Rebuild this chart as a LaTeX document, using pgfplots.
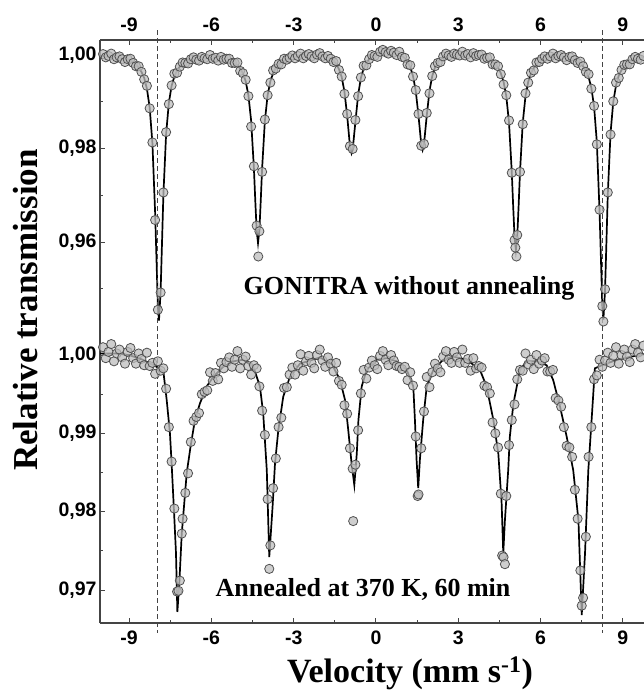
\documentclass[border=0pt]{standalone}
\usepackage{pgfplots}
\pgfplotsset{compat=1.18}
\usepackage{fontspec}
\setmainfont{Liberation Serif}
\newfontfamily\tickfont{Liberation Sans}
\definecolor{axgray}{HTML}{444444}
\definecolor{mfill}{HTML}{BDBDBD}
\definecolor{medge}{HTML}{505050}
\pgfplotsset{
  mystyle/.style={
    scale only axis, width=544pt,
    xmin=-10.06, xmax=9.77,
    xtick={-9,-6,-3,0,3,6,9},
    xticklabels={-9,-6,-3,0,3,6,9},
    minor xtick={-7.5,-4.5,-1.5,1.5,4.5,7.5},
    tick align=inside,
    major tick length=5pt, minor tick length=3pt,
    tick style={axgray, line width=1pt},
    axis line style={axgray, line width=1.4pt},
    ticklabel style={font={\tickfont\bfseries\fontsize{19.5}{21}\selectfont}, text=black},
  },
  pts/.style={only marks, mark=*, mark size=4.6pt,
    mark options={fill=mfill, fill opacity=0.75, draw=medge, line width=0.8pt}},
  fit/.style={black, line width=1.7pt, mark=none},
}
\begin{document}
\begin{tikzpicture}
\path[use as bounding box] (0,0) rectangle (644pt,691pt);
% ---------------- top panel ----------------
\begin{axis}[mystyle, at={(100pt,364pt)}, anchor=south west, height=287pt,
  ymin=0.94182, ymax=1.00321,
  axis x line*=top, axis y line*=left,
  ytick={0.96,0.98,1.00}, yticklabels={{0,96},{0,98},{1,00}},
  minor ytick={0.95,0.97,0.99},
  clip=false, xticklabel style={yshift=5pt}]
\addplot[pts] table {
-9.95 1.0002
-9.85 0.9995
-9.75 0.9998
-9.65 1.0003
-9.55 0.9991
-9.45 0.9995
-9.35 0.9997
-9.25 0.9991
-9.15 0.9985
-9.05 0.9991
-8.95 0.9992
-8.85 0.9983
-8.75 0.9976
-8.65 0.9976
-8.55 0.9964
-8.45 0.9948
-8.35 0.9934
-8.25 0.9886
-8.15 0.9813
-8.05 0.9647
-7.95 0.9455
-7.85 0.9492
-7.75 0.9706
-7.65 0.9835
-7.55 0.9895
-7.45 0.9935
-7.35 0.9960
-7.25 0.9962
-7.15 0.9975
-7.05 0.9984
-6.95 0.9983
-6.85 0.9982
-6.75 0.9991
-6.65 0.9995
-6.55 0.9990
-6.45 0.9988
-6.35 0.9996
-6.25 0.9993
-6.15 0.9991
-6.05 1.0000
-5.95 0.9992
-5.85 0.9994
-5.75 0.9988
-5.65 0.9996
-5.55 0.9990
-5.45 0.9992
-5.35 0.9992
-5.25 0.9983
-5.15 0.9983
-5.05 0.9984
-4.95 0.9966
-4.85 0.9961
-4.75 0.9947
-4.65 0.9912
-4.55 0.9847
-4.45 0.9762
-4.35 0.9635
-4.29 0.9569
-4.25 0.9623
-4.15 0.9750
-4.05 0.9862
-3.95 0.9914
-3.85 0.9941
-3.75 0.9967
-3.65 0.9971
-3.55 0.9981
-3.45 0.9980
-3.35 0.9992
-3.25 0.9990
-3.15 0.9994
-3.05 0.9999
-2.95 0.9993
-2.85 0.9998
-2.75 1.0003
-2.65 0.9993
-2.55 0.9998
-2.45 1.0002
-2.35 0.9997
-2.25 0.9993
-2.15 1.0001
-2.05 1.0004
-1.95 0.9997
-1.85 0.9993
-1.75 0.9998
-1.65 0.9992
-1.55 0.9985
-1.45 0.9987
-1.35 0.9968
-1.25 0.9954
-1.15 0.9917
-1.05 0.9874
-0.95 0.9805
-0.85 0.9799
-0.75 0.9861
-0.65 0.9912
-0.55 0.9952
-0.45 0.9977
-0.35 0.9978
-0.25 0.9991
-0.15 1.0000
-0.05 0.9998
0.05 0.9996
0.15 1.0007
0.25 1.0011
0.35 1.0006
0.45 1.0003
0.55 1.0009
0.65 1.0005
0.75 1.0000
0.85 1.0007
0.95 0.9996
1.05 0.9994
1.15 0.9980
1.25 0.9978
1.35 0.9954
1.45 0.9925
1.55 0.9874
1.65 0.9806
1.75 0.9810
1.85 0.9876
1.95 0.9918
2.05 0.9955
2.15 0.9976
2.25 0.9983
2.35 0.9985
2.45 0.9997
2.55 1.0003
2.65 0.9999
2.75 0.9996
2.85 1.0003
2.95 1.0001
3.05 0.9999
3.15 1.0007
3.25 0.9999
3.35 1.0002
3.45 0.9995
3.55 1.0004
3.65 0.9998
3.75 1.0000
3.85 1.0001
3.95 0.9992
4.05 0.9994
4.15 0.9995
4.25 0.9980
4.35 0.9980
4.45 0.9976
4.55 0.9959
4.65 0.9937
4.75 0.9914
4.85 0.9860
4.95 0.9748
5.05 0.9604
5.08 0.9588
5.12 0.9569
5.15 0.9615
5.25 0.9750
5.35 0.9852
5.45 0.9918
5.55 0.9941
5.65 0.9962
5.75 0.9967
5.85 0.9984
5.95 0.9985
6.05 0.9992
6.15 0.9997
6.25 0.9992
6.35 0.9997
6.45 1.0003
6.55 0.9993
6.65 0.9998
6.75 1.0000
6.85 0.9995
6.95 0.9989
7.05 0.9996
7.15 0.9997
7.25 0.9989
7.35 0.9983
7.45 0.9986
7.55 0.9976
7.65 0.9964
7.75 0.9959
7.85 0.9928
7.95 0.9891
8.05 0.9809
8.15 0.9669
8.25 0.9463
8.29 0.9430
8.35 0.9499
8.45 0.9706
8.55 0.9830
8.65 0.9901
8.75 0.9941
8.85 0.9951
8.95 0.9968
9.05 0.9979
9.15 0.9980
9.25 0.9980
9.35 0.9991
9.45 0.9996
9.55 0.9992
9.65 0.9990
9.75 0.9998
};
\addplot[fit] table {
-10.05 0.9998
-9.95 0.9998
-9.85 0.9998
-9.75 0.9997
-9.65 0.9997
-9.55 0.9996
-9.45 0.9995
-9.35 0.9994
-9.25 0.9993
-9.15 0.9991
-9.05 0.9989
-8.95 0.9987
-8.85 0.9984
-8.75 0.9980
-8.65 0.9973
-8.55 0.9964
-8.45 0.9951
-8.35 0.9928
-8.25 0.9888
-8.15 0.9812
-8.05 0.9662
-7.95 0.9462
-7.91 0.9432
-7.85 0.9495
-7.75 0.9700
-7.65 0.9831
-7.55 0.9898
-7.45 0.9934
-7.35 0.9954
-7.25 0.9967
-7.15 0.9975
-7.05 0.9981
-6.95 0.9985
-6.85 0.9988
-6.75 0.9989
-6.65 0.9990
-6.55 0.9991
-6.45 0.9992
-6.35 0.9993
-6.25 0.9993
-6.15 0.9994
-6.05 0.9994
-5.95 0.9994
-5.85 0.9993
-5.75 0.9993
-5.65 0.9992
-5.55 0.9991
-5.45 0.9990
-5.35 0.9988
-5.25 0.9986
-5.15 0.9982
-5.05 0.9978
-4.95 0.9971
-4.85 0.9961
-4.75 0.9944
-4.65 0.9914
-4.55 0.9859
-4.45 0.9758
-4.40 0.9689
-4.35 0.9625
-4.30 0.9598
-4.25 0.9625
-4.20 0.9689
-4.15 0.9758
-4.05 0.9859
-3.95 0.9914
-3.85 0.9944
-3.75 0.9961
-3.65 0.9973
-3.55 0.9980
-3.45 0.9985
-3.35 0.9988
-3.25 0.9991
-3.15 0.9992
-3.05 0.9995
-2.95 0.9996
-2.85 0.9997
-2.75 0.9997
-2.65 0.9998
-2.55 0.9998
-2.45 0.9999
-2.35 0.9999
-2.25 0.9999
-2.15 0.9999
-2.05 0.9999
-1.95 0.9998
-1.85 0.9997
-1.75 0.9995
-1.65 0.9992
-1.55 0.9988
-1.45 0.9981
-1.35 0.9970
-1.25 0.9953
-1.15 0.9922
-1.05 0.9870
-0.95 0.9806
-0.89 0.9790
-0.85 0.9797
-0.75 0.9857
-0.65 0.9915
-0.55 0.9951
-0.45 0.9971
-0.35 0.9983
-0.25 0.9991
-0.15 0.9997
-0.05 1.0000
0.05 1.0002
0.15 1.0005
0.25 1.0006
0.35 1.0007
0.45 1.0007
0.55 1.0006
0.65 1.0005
0.75 1.0003
0.85 1.0001
0.95 0.9998
1.05 0.9993
1.15 0.9985
1.25 0.9974
1.35 0.9955
1.45 0.9923
1.55 0.9870
1.65 0.9809
1.70 0.9797
1.75 0.9809
1.85 0.9870
1.95 0.9923
2.05 0.9955
2.15 0.9973
2.25 0.9985
2.35 0.9991
2.45 0.9995
2.55 0.9998
2.65 1.0000
2.75 1.0000
2.85 1.0000
2.95 1.0001
3.05 1.0002
3.15 1.0001
3.25 1.0001
3.35 1.0001
3.45 1.0000
3.55 1.0000
3.65 0.9999
3.75 0.9998
3.85 0.9997
3.95 0.9995
4.05 0.9993
4.15 0.9989
4.25 0.9985
4.35 0.9980
4.45 0.9973
4.55 0.9961
4.65 0.9943
4.75 0.9912
4.85 0.9855
4.95 0.9750
5.00 0.9678
5.05 0.9612
5.10 0.9583
5.15 0.9612
5.20 0.9678
5.25 0.9750
5.35 0.9855
5.45 0.9912
5.55 0.9943
5.65 0.9961
5.75 0.9972
5.85 0.9980
5.95 0.9986
6.05 0.9990
6.15 0.9993
6.25 0.9995
6.35 0.9996
6.45 0.9997
6.55 0.9998
6.65 0.9998
6.75 0.9997
6.85 0.9997
6.95 0.9995
7.05 0.9994
7.15 0.9992
7.25 0.9990
7.35 0.9987
7.45 0.9983
7.55 0.9976
7.65 0.9967
7.75 0.9953
7.85 0.9930
7.95 0.9890
8.05 0.9814
8.15 0.9665
8.25 0.9464
8.29 0.9434
8.35 0.9497
8.45 0.9702
8.55 0.9833
8.65 0.9900
8.75 0.9935
8.85 0.9956
8.95 0.9968
9.05 0.9976
9.15 0.9982
9.25 0.9986
9.35 0.9989
9.45 0.9991
9.55 0.9993
9.65 0.9994
9.77 0.9995
};
\draw[axgray, line width=1.2pt, dash pattern=on 5pt off 3pt] (axis cs:-7.96,1.0053) -- (axis cs:-7.96,0.8764);
\draw[axgray, line width=1.2pt, dash pattern=on 5pt off 3pt] (axis cs:8.25,1.0053) -- (axis cs:8.25,0.8764);
\end{axis}
% ---------------- bottom panel ----------------
\begin{axis}[mystyle, at={(100pt,68pt)}, anchor=south west, height=296pt,
  ymin=0.96579, ymax=1.00358,
  axis x line*=bottom, axis y line*=left,
  ytick={0.97,0.98,0.99,1.00}, yticklabels={{0,97},{0,98},{0,99},{1,00}},
  minor ytick={0.975,0.985,0.995},
  xticklabel style={yshift=-4pt}]
\addplot[pts] table {
-9.95 1.0010
-9.85 0.9996
-9.75 1.0004
-9.65 1.0014
-9.55 0.9992
-9.45 1.0002
-9.35 1.0007
-9.25 0.9997
-9.15 0.9989
-9.05 1.0004
-8.95 1.0009
-8.85 0.9996
-8.75 0.9989
-8.65 1.0002
-8.55 0.9995
-8.45 0.9987
-8.35 1.0003
-8.25 0.9986
-8.15 0.9990
-8.05 0.9976
-7.95 0.9992
-7.85 0.9980
-7.75 0.9983
-7.65 0.9957
-7.55 0.9908
-7.45 0.9864
-7.35 0.9804
-7.25 0.9698
-7.20 0.9699
-7.15 0.9712
-7.08 0.9772
-7.05 0.9791
-6.95 0.9824
-6.85 0.9849
-6.75 0.9889
-6.65 0.9916
-6.55 0.9921
-6.45 0.9926
-6.35 0.9950
-6.25 0.9953
-6.15 0.9955
-6.05 0.9978
-5.95 0.9967
-5.85 0.9977
-5.75 0.9969
-5.65 0.9990
-5.55 0.9983
-5.45 0.9991
-5.35 0.9997
-5.25 0.9985
-5.15 0.9994
-5.05 1.0005
-4.95 0.9983
-4.85 0.9994
-4.75 0.9998
-4.65 0.9986
-4.55 0.9975
-4.45 0.9987
-4.35 0.9983
-4.25 0.9960
-4.15 0.9929
-4.05 0.9898
-3.95 0.9816
-3.89 0.9727
-3.85 0.9757
-3.75 0.9830
-3.65 0.9868
-3.55 0.9908
-3.45 0.9920
-3.35 0.9958
-3.25 0.9959
-3.15 0.9975
-3.05 0.9984
-2.95 0.9975
-2.85 0.9987
-2.75 1.0001
-2.65 0.9980
-2.55 0.9992
-2.45 0.9999
-2.35 0.9990
-2.25 0.9983
-2.15 1.0000
-2.05 1.0007
-1.95 0.9993
-1.85 0.9985
-1.75 0.9997
-1.65 0.9989
-1.55 0.9979
-1.45 0.9990
-1.35 0.9967
-1.25 0.9962
-1.15 0.9936
-1.05 0.9925
-0.95 0.9881
-0.85 0.9855
-0.83 0.9788
-0.75 0.9860
-0.65 0.9904
-0.55 0.9951
-0.45 0.9981
-0.35 0.9970
-0.25 0.9984
-0.15 0.9993
-0.05 0.9987
0.05 0.9982
0.15 0.9999
0.25 1.0005
0.35 0.9994
0.45 0.9987
0.55 1.0000
0.65 0.9993
0.75 0.9986
0.85 0.9985
0.95 0.9982
1.05 0.9985
1.15 0.9968
1.25 0.9978
1.35 0.9961
1.45 0.9896
1.52 0.9820
1.55 0.9822
1.65 0.9881
1.75 0.9928
1.85 0.9972
1.95 0.9959
2.05 0.9978
2.15 0.9989
2.25 0.9983
2.35 0.9978
2.45 0.9998
2.55 1.0005
2.65 0.9994
2.75 0.9990
2.85 1.0004
2.95 0.9997
3.05 0.9990
3.15 1.0007
3.25 0.9990
3.35 0.9995
3.45 0.9980
3.55 0.9996
3.65 0.9983
3.75 0.9986
3.85 0.9984
3.95 0.9961
4.05 0.9959
4.15 0.9951
4.25 0.9914
4.35 0.9900
4.45 0.9882
4.55 0.9823
4.60 0.9744
4.65 0.9742
4.70 0.9733
4.75 0.9820
4.85 0.9885
4.95 0.9917
5.05 0.9937
5.15 0.9969
5.25 0.9981
5.35 0.9980
5.45 1.0002
5.55 0.9988
5.65 0.9994
5.75 0.9982
5.85 1.0000
5.95 0.9989
6.05 0.9993
6.15 0.9996
6.25 0.9979
6.35 0.9979
6.45 0.9981
6.55 0.9945
6.65 0.9942
6.75 0.9934
6.85 0.9908
6.95 0.9884
7.05 0.9882
7.15 0.9870
7.25 0.9828
7.35 0.9791
7.45 0.9725
7.50 0.9680
7.55 0.9690
7.65 0.9768
7.75 0.9870
7.85 0.9908
7.95 0.9969
8.05 0.9974
8.15 0.9994
8.25 0.9985
8.35 0.9993
8.45 1.0003
8.55 0.9990
8.65 0.9999
8.75 1.0010
8.85 0.9989
8.95 1.0000
9.05 1.0007
9.15 0.9998
9.25 0.9991
9.35 1.0007
9.45 1.0014
9.55 1.0003
9.65 0.9997
9.75 1.0012
};
\addplot[fit] table {
-10.06 1.0002
-9.50 1.0002
-9.00 1.0000
-8.50 0.9994
-8.00 0.9985
-7.75 0.9979
-7.63 0.9943
-7.51 0.9900
-7.45 0.9862
-7.36 0.9799
-7.29 0.9747
-7.24 0.9672
-7.17 0.9708
-7.08 0.9772
-7.00 0.9806
-6.90 0.9849
-6.76 0.9883
-6.60 0.9917
-6.42 0.9938
-6.17 0.9960
-5.93 0.9972
-5.57 0.9985
-5.20 0.9992
-4.84 0.9994
-4.47 0.9985
-4.23 0.9960
-4.11 0.9925
-3.98 0.9853
-3.89 0.9742
-3.77 0.9806
-3.68 0.9862
-3.56 0.9904
-3.38 0.9947
-3.14 0.9972
-2.77 0.9989
-2.04 0.9997
-1.60 0.9988
-1.31 0.9968
-1.13 0.9943
-1.01 0.9904
-0.89 0.9862
-0.79 0.9834
-0.70 0.9874
-0.64 0.9917
-0.52 0.9960
-0.34 0.9981
0.02 0.9994
0.39 0.9996
0.75 0.9992
1.12 0.9981
1.36 0.9960
1.42 0.9917
1.48 0.9866
1.54 0.9830
1.60 0.9866
1.72 0.9917
1.85 0.9960
2.09 0.9981
2.45 0.9994
2.82 0.9998
3.31 0.9994
3.79 0.9981
4.03 0.9960
4.28 0.9917
4.46 0.9874
4.58 0.9811
4.64 0.9747
4.70 0.9789
4.82 0.9853
4.88 0.9896
5.01 0.9938
5.25 0.9981
5.49 0.9992
5.86 0.9992
6.22 0.9987
6.46 0.9968
6.71 0.9934
6.95 0.9896
7.19 0.9853
7.38 0.9789
7.50 0.9668
7.62 0.9747
7.74 0.9853
7.86 0.9917
7.98 0.9983
8.30 0.9988
8.90 0.9995
9.60 1.0000
9.77 1.0001
};
\end{axis}
\node[anchor=base, font={\bfseries\fontsize{26}{28}\selectfont}] at (409pt,396pt) {GONITRA without annealing};
\node[anchor=base, font={\bfseries\fontsize{26}{28}\selectfont}] at (363pt,94pt) {Annealed at 370 K, 60 min};
\node[rotate=90, anchor=base, font={\bfseries\fontsize{35}{37}\selectfont}] at (37pt,381pt) {Relative transmission};
\node[anchor=base, font={\bfseries\fontsize{34}{37}\selectfont}] at (410pt,9pt) {Velocity (mm s\textsuperscript{-1})};
\end{tikzpicture}
\end{document}
